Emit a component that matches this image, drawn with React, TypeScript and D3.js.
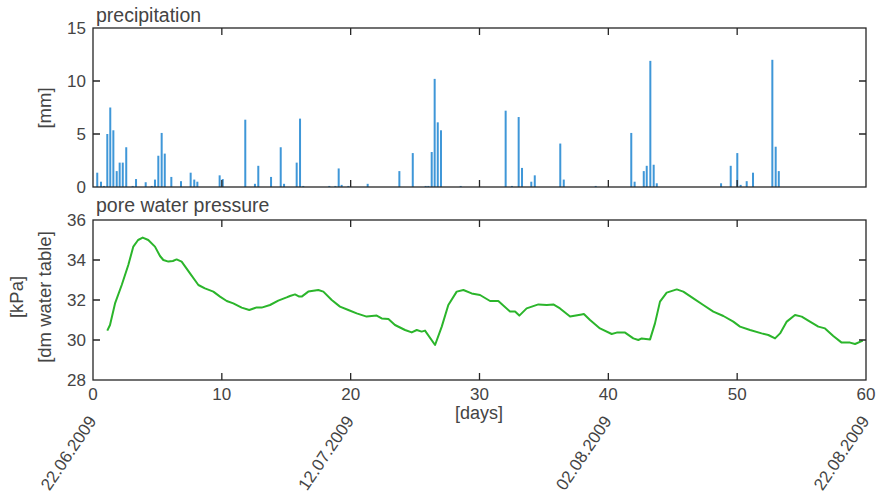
import * as d3 from 'd3'
import { useRef, useEffect } from 'react'

// precipitation bars, [days] since 22.06.2009 and [mm]
const rainDays = [0.33, 0.62, 0.85, 1.11, 1.34, 1.58, 1.84, 2.07, 2.31, 2.58, 3.08, 3.34, 4.09, 4.56, 4.81, 5.07, 5.33, 5.57, 6.08, 6.83, 7.58, 7.86, 8.10, 9.83, 10.07, 11.82, 12.57, 12.83, 13.82, 14.57, 14.83, 15.81, 16.07, 16.32, 18.34, 18.81, 19.07, 19.30, 19.82, 21.32, 23.78, 24.82, 25.82, 26.03, 26.29, 26.52, 26.76, 27.01, 28.54, 32.03, 32.52, 33.04, 33.30, 34.02, 34.29, 36.27, 36.54, 39.02, 41.78, 42.04, 42.75, 42.98, 43.26, 43.52, 43.76, 48.75, 49.50, 50.01, 50.27, 50.74, 51.23, 52.73, 52.99, 53.23]
const rainMm = [1.35, 0.5, 0.1, 5.0, 7.5, 5.35, 1.5, 2.3, 2.3, 3.75, 0.1, 0.75, 0.45, 0.1, 0.7, 2.95, 5.1, 3.15, 0.95, 0.55, 1.35, 0.7, 0.5, 1.1, 0.75, 6.35, 0.3, 2.0, 0.95, 3.75, 0.3, 2.3, 6.45, 0.1, 0.1, 0.1, 1.75, 0.2, 0.1, 0.3, 1.5, 3.2, 0.1, 0.1, 3.3, 10.2, 6.1, 5.35, 0.1, 7.2, 0.1, 6.6, 1.8, 0.5, 1.1, 4.1, 0.7, 0.1, 5.1, 0.5, 1.5, 2.0, 11.9, 2.1, 0.35, 0.35, 2.0, 3.2, 0.2, 0.55, 1.35, 12.0, 3.8, 1.5]

// pore water pressure, [days] and [kPa]
const pwpDays = [1.11, 1.32, 1.71, 2.23, 2.74, 3.13, 3.5, 3.86, 4.29, 4.81, 5.2, 5.46, 5.85, 6.2, 6.49, 6.88, 7.53, 8.18, 8.69, 9.34, 9.86, 10.38, 10.89, 11.54, 12.13, 12.7, 13.09, 13.74, 14.38, 15.03, 15.29, 15.68, 16.01, 16.2, 16.71, 17.49, 17.88, 18.53, 19.17, 19.82, 20.47, 21.24, 22.02, 22.41, 22.93, 23.44, 24.22, 24.74, 25.13, 25.51, 25.77, 26.55, 27.07, 27.58, 28.23, 28.75, 29.39, 30.04, 30.82, 31.46, 32.37, 32.76, 33.09, 33.66, 34.57, 35.22, 35.73, 36.25, 37.03, 37.93, 38.1, 38.58, 39.35, 40.26, 40.65, 41.3, 41.94, 42.33, 42.59, 43.24, 43.62, 44.01, 44.53, 45.31, 45.82, 46.6, 47.37, 48.15, 48.93, 49.7, 50.22, 51.0, 51.9, 52.42, 52.94, 53.33, 53.85, 54.49, 55.01, 55.65, 56.3, 56.82, 57.46, 58.11, 58.76, 59.15, 59.75]
const pwpKpa = [30.47, 30.75, 31.83, 32.75, 33.75, 34.67, 35.0, 35.12, 35.0, 34.67, 34.2, 34.0, 33.92, 33.95, 34.03, 33.92, 33.33, 32.75, 32.58, 32.42, 32.17, 31.95, 31.83, 31.62, 31.5, 31.63, 31.62, 31.75, 31.97, 32.13, 32.2, 32.28, 32.17, 32.17, 32.42, 32.5, 32.42, 32.0, 31.67, 31.5, 31.33, 31.17, 31.22, 31.08, 31.05, 30.75, 30.5, 30.38, 30.5, 30.42, 30.47, 29.75, 30.67, 31.75, 32.42, 32.5, 32.33, 32.25, 31.95, 31.95, 31.42, 31.42, 31.22, 31.58, 31.78, 31.75, 31.78, 31.58, 31.17, 31.28, 31.3, 31.0, 30.58, 30.3, 30.37, 30.37, 30.08, 30.0, 30.08, 30.03, 30.83, 31.92, 32.37, 32.53, 32.42, 32.08, 31.75, 31.42, 31.2, 30.92, 30.67, 30.5, 30.33, 30.25, 30.08, 30.33, 30.92, 31.25, 31.17, 30.92, 30.67, 30.58, 30.2, 29.87, 29.87, 29.8, 29.97]

const dayTicks = [0, 10, 20, 30, 40, 50, 60]
const rainTicks = [0, 5, 10, 15]
const pwpTicks = [28, 30, 32, 34, 36]
const dateTicks = [0, 20, 40, 60]
const dateLabels = ['22.06.2009', '12.07.2009', '02.08.2009', '22.08.2009']

const FONT = 'Liberation Sans, Arial, sans-serif'
const TEXT = '#444444'
const AXIS = '#262626'

export default function App() {
    const svgRef = useRef(null)

    useEffect(() => {
        const svg = d3.select(svgRef.current)
        svg.selectAll('*').remove()

        const x = d3.scaleLinear().domain([0, 60]).range([93, 866])
        const yRain = d3.scaleLinear().domain([0, 15]).range([187, 28])
        const yPwp = d3.scaleLinear().domain([28, 36]).range([380, 220])

        // boxed axes with inward ticks on all four sides
        const box = (y, yTicks, showX) => {
            const g = svg.append('g')
            const [y0, y1] = y.range()
            const tl = 7
            g.selectAll('.xt').data(dayTicks.slice(1, -1)).join('path')
                .attr('d', d => `M${x(d)},${y0}v${-tl}M${x(d)},${y1}v${tl}`)
                .attr('stroke', AXIS).attr('stroke-width', 1.3)
            g.selectAll('.yt').data(yTicks.slice(1, -1)).join('path')
                .attr('d', d => `M93,${y(d)}h${tl}M866,${y(d)}h${-tl}`)
                .attr('stroke', AXIS).attr('stroke-width', 1.3)
            g.append('rect')
                .attr('x', 93).attr('y', y1).attr('width', 773).attr('height', y0 - y1)
                .attr('fill', 'none').attr('stroke', AXIS).attr('stroke-width', 1.3)
            g.selectAll('.yl').data(yTicks).join('text')
                .attr('x', 86).attr('y', d => y(d)).attr('dy', '0.36em')
                .attr('text-anchor', 'end').attr('font-size', 17).attr('font-family', FONT)
                .attr('fill', TEXT).text(d => d)
            if (showX) {
                g.selectAll('.xl').data(dayTicks).join('text')
                    .attr('x', d => x(d)).attr('y', y0 + 14).attr('dy', '0.36em')
                    .attr('text-anchor', 'middle').attr('font-size', 17).attr('font-family', FONT)
                    .attr('fill', TEXT).text(d => d)
            }
            return g
        }

        // precipitation
        svg.append('g').selectAll('rect')
            .data(rainDays.map((d, i) => [d, rainMm[i]]))
            .join('rect')
            .attr('x', d => x(d[0]) - 1)
            .attr('y', d => yRain(d[1]))
            .attr('width', 2)
            .attr('height', d => yRain(0) - yRain(d[1]))
            .attr('fill', '#3f97d8')
        box(yRain, rainTicks, false)

        // pore water pressure
        const line = d3.line().x(d => x(d[0])).y(d => yPwp(d[1]))
        svg.append('path')
            .datum(pwpDays.map((d, i) => [d, pwpKpa[i]]))
            .attr('d', line)
            .attr('fill', 'none')
            .attr('stroke', '#2bb52b')
            .attr('stroke-width', 2)
            .attr('stroke-linejoin', 'round')
        box(yPwp, pwpTicks, true)

        const label = (tx, ty, s, opts = {}) => svg.append('text')
            .attr('x', tx).attr('y', ty)
            .attr('font-size', opts.size || 18.5).attr('font-family', FONT).attr('fill', TEXT)
            .attr('text-anchor', opts.anchor || 'middle')
            .attr('transform', opts.rotate ? `rotate(${opts.rotate},${tx},${ty})` : null)
            .text(s)

        label(96, 22, 'precipitation', { size: 19.5, anchor: 'start' })
        label(96, 212, 'pore water pressure', { size: 19.5, anchor: 'start' })
        label(51, 108, '[mm]', { rotate: -90 })
        label(23, 297, '[kPa]', { rotate: -90 })
        label(51, 297, '[dm water table]', { rotate: -90 })
        label(479, 419, '[days]', { size: 18 })

        svg.append('g').selectAll('text')
            .data(dateTicks)
            .join('text')
            .attr('x', d => x(d) + 4)
            .attr('y', 421)
            .attr('text-anchor', 'end')
            .attr('font-size', 17)
            .attr('font-family', FONT)
            .attr('fill', TEXT)
            .attr('transform', d => `rotate(-56,${x(d) + 4},421)`)
            .text((_, i) => dateLabels[i])
    }, [])

    return (
        <svg ref={svgRef} width={878} height={494}
            style={{ display: 'block', position: 'absolute', left: 0, top: 0, background: '#fff' }} />
    )
}
